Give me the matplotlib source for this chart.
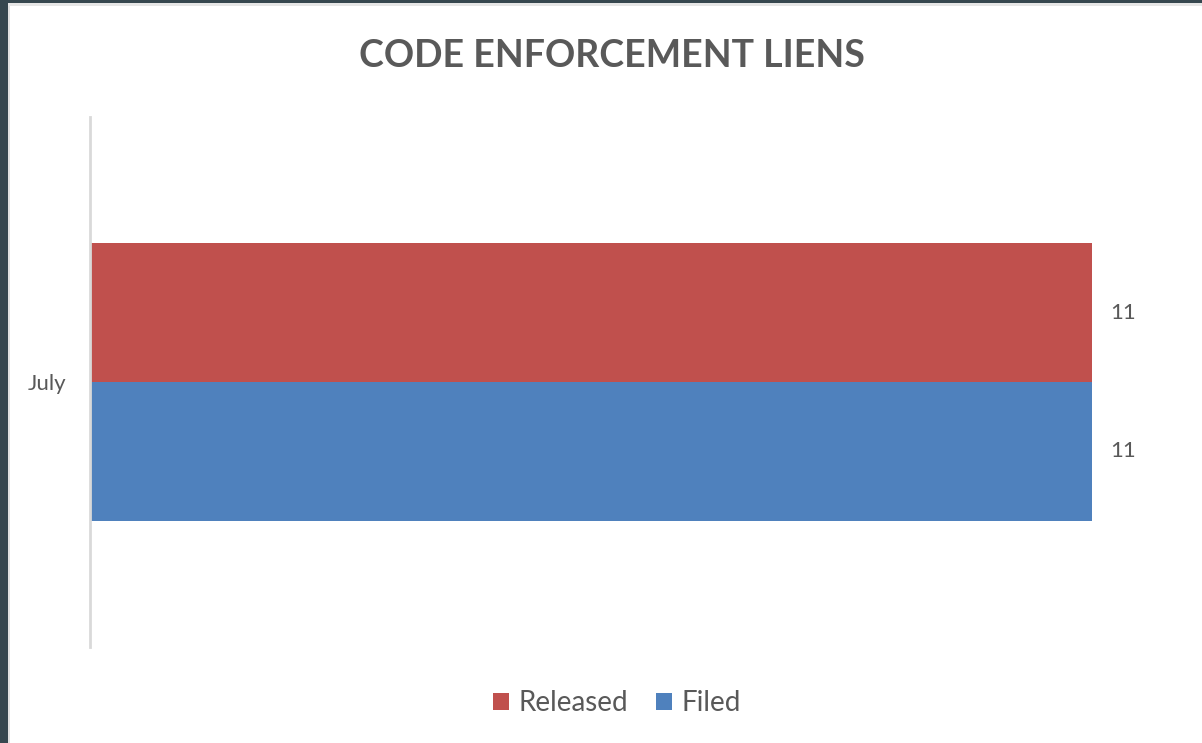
import matplotlib.pyplot as plt
from matplotlib.patches import Rectangle

# data
categories = ["July"]
series_names = ["Released", "Filed"]
released = [11]
filed = [11]

red = "#C0504D"
blue = "#4F81BD"
text_gray = "#595959"

plt.rcParams['font.family'] = ['Lato', 'DejaVu Sans']

fig = plt.figure(figsize=(12.02, 7.43), dpi=100)
fig.patch.set_facecolor("white")

# dark frame of the screenshot (left and top)
fig.patches.append(Rectangle((0, 0), 8 / 1202, 1, transform=fig.transFigure,
                             facecolor="#36474F", edgecolor="none", zorder=0))
fig.patches.append(Rectangle((0, 1 - 3 / 743), 1, 3 / 743, transform=fig.transFigure,
                             facecolor="#36474F", edgecolor="none", zorder=0))
fig.patches.append(Rectangle((8 / 1202, 0), 2 / 1202, 1 - 3 / 743, transform=fig.transFigure,
                             facecolor="#E2E2E2", edgecolor="none", zorder=0))
fig.patches.append(Rectangle((8 / 1202, 1 - 6 / 743), 1 - 8 / 1202, 3 / 743, transform=fig.transFigure,
                             facecolor="#E6E6E6", edgecolor="none", zorder=0))

ax = fig.add_axes([90 / 1202, 1 - 647 / 743, (1092 - 90) / 1202, (647 - 117) / 743])

h = 0.262
pos = list(range(len(categories)))
b1 = ax.barh([p + h / 2 for p in pos], released, height=h, color=red, label=series_names[0])
b2 = ax.barh([p - h / 2 for p in pos], filed, height=h, color=blue, label=series_names[1])

for bars, vals in [(b1, released), (b2, filed)]:
    for bar, v in zip(bars, vals):
        ax.annotate(str(v), (v, bar.get_y() + bar.get_height() / 2), xytext=(13, 0),
                    textcoords="offset points", va="center", ha="left",
                    fontsize=16, color=text_gray)

ax.set_xlim(0, 11)
ax.set_ylim(-0.5, 0.5)
ax.set_yticks(pos)
ax.set_yticklabels(categories, fontsize=16, color=text_gray)
ax.tick_params(axis="y", length=0, pad=17)
ax.set_xticks([])
for s in ["top", "right", "bottom"]:
    ax.spines[s].set_visible(False)
ax.spines["left"].set_color("#D9D9D9")
ax.spines["left"].set_linewidth(2)

fig.text(612 / 1202, 1 - 56 / 743, "CODE ENFORCEMENT LIENS", ha="center", va="center",
         fontsize=27, fontweight="bold", color=text_gray)

fig.legend(handles=[b1, b2], labels=series_names, loc="center", bbox_to_anchor=(617 / 1202, 1 - 703 / 743),
           ncol=2, frameon=False, fontsize=20, handlelength=0.58, handleheight=0.58,
           handletextpad=0.35, columnspacing=1.0, labelcolor=text_gray)

fig.savefig("out.png", dpi=100)
